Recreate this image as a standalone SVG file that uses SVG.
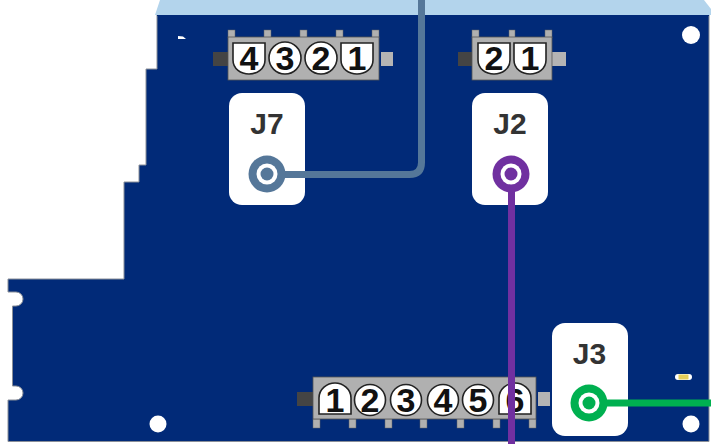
<svg xmlns="http://www.w3.org/2000/svg" width="711" height="444" viewBox="0 0 711 444">
<style>
.body{fill:#b0b0b0;stroke:#555;stroke-width:.8}
.tab{fill:#b0b0b0;stroke:#666;stroke-width:.5}
.dk{fill:#444}
.lt{fill:#b4b4b4}
.pin{fill:#fff;stroke:#222;stroke-width:1.6}
.dg{font:bold 34px "Liberation Sans",Arial,sans-serif;fill:#111;text-anchor:middle}
.card{fill:#fff}
.lbl{font:bold 30px "Liberation Sans",Arial,sans-serif;fill:#333;text-anchor:middle}
.hole{fill:#fff}
.ln{fill:none;stroke-width:7}
</style>
<defs>
<path id="sh" d="M-16-15H16V2C16 11 8 16 0 16C-8 16-16 11-16 2Z"/>
<path id="ar" d="M-16 15V-1C-16-10-8-16 0-16C8-16 16-10 16-1V15Z"/>
</defs>
<g id="board">
<path d="M157 15H709V441.500H8V400H16A7 7 0 0 0 16 386H12.500V306H16A7 7 0 0 0 16 292H8V279H124V182H139V165H146V69H157Z" fill="#012a78" stroke="#8a8f98" stroke-width="1"/>
<polygon points="155,15 160,0 704,0 711,9 711,15" fill="#b3d4ec"/>
<rect x="157" y="15" width="552" height="1" fill="#012a78"/>
<circle class="hole" cx="691" cy="35" r="9"/>
<circle class="hole" cx="691" cy="424" r="8.500"/>
<circle class="hole" cx="158" cy="424" r="8.500"/>
<path d="M178 36L183 36.500L186 39H178Z" fill="#fff"/>
<rect x="675" y="374" width="17" height="6" rx="3" fill="#fff"/>
<rect x="678.500" y="374.500" width="10" height="5" fill="#e6cf5a"/>
</g>
<g id="connector-4pin">
<rect class="dk" x="213" y="52" width="15" height="14"/><rect class="lt" x="381" y="52" width="12" height="14"/>
<rect class="tab" x="228" y="30" width="7" height="8"/><rect class="tab" x="264" y="30" width="7" height="8"/><rect class="tab" x="300" y="30" width="7" height="8"/><rect class="tab" x="336" y="30" width="7" height="8"/><rect class="tab" x="372" y="30" width="7" height="8"/>
<rect class="body" x="228" y="37" width="151" height="43"/>
<use href="#sh" class="pin" x="249" y="58"/><circle class="pin" cx="285" cy="58" r="16"/><circle class="pin" cx="321" cy="58" r="16"/><use href="#sh" class="pin" x="357" y="58"/>
<text class="dg" x="249" y="70">4</text><text class="dg" x="285" y="70">3</text><text class="dg" x="321" y="70">2</text><text class="dg" x="357" y="70">1</text>
</g>
<g id="connector-2pin">
<rect class="dk" x="458" y="52" width="14" height="14"/><rect class="lt" x="552" y="52" width="14" height="14"/>
<rect class="tab" x="472" y="30" width="7" height="8"/><rect class="tab" x="509" y="30" width="6" height="8"/><rect class="tab" x="545" y="30" width="7" height="8"/>
<rect class="body" x="472" y="37" width="80" height="43"/>
<use href="#sh" class="pin" x="494" y="58"/><use href="#sh" class="pin" x="530" y="58"/>
<text class="dg" x="494" y="70">2</text><text class="dg" x="530" y="70">1</text>
</g>
<g id="connector-6pin">
<rect class="dk" x="297" y="392" width="16" height="14"/><rect class="lt" x="538" y="392" width="12" height="14"/>
<rect class="tab" x="313" y="419" width="7" height="9"/><rect class="tab" x="349" y="419" width="7" height="9"/><rect class="tab" x="385" y="419" width="7" height="9"/><rect class="tab" x="420" y="419" width="7" height="9"/><rect class="tab" x="457" y="419" width="7" height="9"/><rect class="tab" x="493" y="419" width="7" height="9"/><rect class="tab" x="529" y="419" width="7" height="9"/>
<rect class="body" x="313" y="377" width="223" height="42"/>
<use href="#ar" class="pin" x="335" y="399"/><circle class="pin" cx="370" cy="400" r="15.500"/><circle class="pin" cx="406" cy="400" r="15.500"/><circle class="pin" cx="443" cy="400" r="15.500"/><circle class="pin" cx="478" cy="400" r="15.500"/><use href="#ar" class="pin" x="515" y="399"/>
<text class="dg" x="335" y="412">1</text><text class="dg" x="370" y="412">2</text><text class="dg" x="406" y="412">3</text><text class="dg" x="443" y="412">4</text><text class="dg" x="478" y="412">5</text><text class="dg" x="515" y="412">6</text>
</g>
<g id="J7"><rect class="card" x="229" y="93" width="76" height="112" rx="13"/><text class="lbl" x="267" y="134">J7</text></g>
<g id="J2"><rect class="card" x="472" y="93" width="76" height="112" rx="13"/><text class="lbl" x="510" y="134">J2</text></g>
<g id="J3"><rect class="card" x="552" y="323" width="76" height="113" rx="13"/><text class="lbl" x="589.500" y="364">J3</text></g>
<g id="connectors">
<path class="ln" stroke="#557799" d="M267 174.500H409.500Q421.500 174.500 421.500 162.500V0"/>
<path class="ln" stroke="#7030a0" d="M511.500 174V444"/>
<path class="ln" stroke="#00b050" d="M589 403H711"/>
<g id="pad-J7"><circle cx="267" cy="174" r="18.500" fill="#557799"/><circle cx="267" cy="174" r="10.500" fill="#fff"/><circle cx="267" cy="174" r="6.500" fill="#557799"/></g>
<g id="pad-J2"><circle cx="511" cy="174" r="18.500" fill="#7030a0"/><circle cx="511" cy="174" r="10.500" fill="#fff"/><circle cx="511" cy="174" r="6.500" fill="#7030a0"/></g>
<g id="pad-J3"><circle cx="589" cy="403" r="18.500" fill="#00b050"/><circle cx="589" cy="403" r="10.500" fill="#fff"/><circle cx="589" cy="403" r="6.500" fill="#00b050"/></g>
</g>
</svg>
